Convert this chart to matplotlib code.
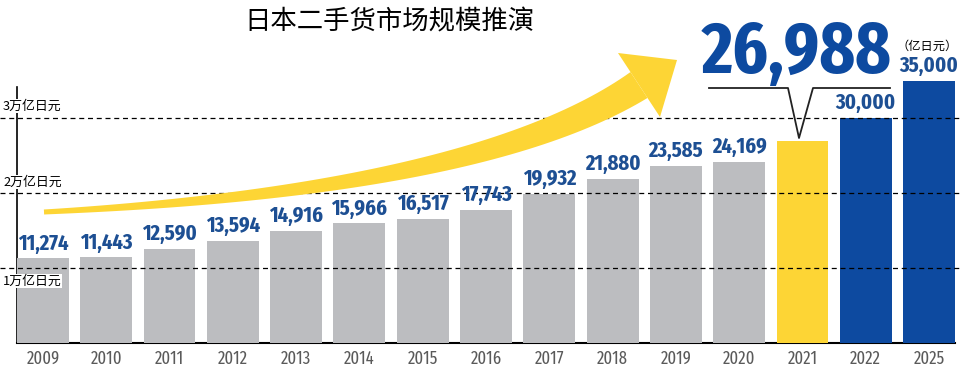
import os
import numpy as np
import matplotlib
matplotlib.use("Agg")
import matplotlib.pyplot as plt
from matplotlib import font_manager
from matplotlib.font_manager import FontProperties
from matplotlib.patches import Polygon
from matplotlib.lines import Line2D

# data
years = ["2009", "2010", "2011", "2012", "2013", "2014", "2015", "2016",
         "2017", "2018", "2019", "2020", "2021", "2022", "2025"]
values = [11274, 11443, 12590, 13594, 14916, 15966, 16517, 17743,
          19932, 21880, 23585, 24169, 26988, 30000, 35000]
kinds = ["past"] * 12 + ["now", "plan", "plan"]

grid_vals = [10000, 20000, 30000]
grid_labels = ["1万亿日元", "2万亿日元", "3万亿日元"]
grid_label_y = [8270, 21470, 31600]

title = "日本二手货市场规模推演"
unit = "（亿日元）"

colors = {"past": "#bcbdc0", "now": "#fdd535", "plan": "#0d4aa0"}
blue_txt = "#1d4f93"
cjk = ["Noto Sans CJK SC", "DejaVu Sans"]


def narrow_font(lo, hi):
    # look for an installed condensed face, narrowest first
    best = None
    for f in font_manager.fontManager.ttflist:
        base = os.path.basename(f.fname)
        if "Italic" in base or "Oblique" in base:
            continue
        if not (lo <= int(f.weight) <= hi):
            continue
        if "ExtraCondensed" in base:
            rank = 0
        elif "SemiCondensed" in base:
            rank = 3
        elif "Condensed" in base or "Narrow" in base:
            rank = 1
        else:
            continue
        if best is None or rank < best[0]:
            best = (rank, f.fname)
    if best is None:
        return FontProperties(family="DejaVu Sans",
                              weight="bold" if lo >= 600 else "normal"), False
    return FontProperties(fname=best[1]), True


fp_bold, ok_b = narrow_font(600, 800)
fp_reg, ok_r = narrow_font(380, 420)
k_b = 1.0 if ok_b else 0.75
k_r = 1.0 if ok_r else 0.8

W, H = 960, 371
fig = plt.figure(figsize=(W / 100, H / 100), dpi=100)
ax = fig.add_axes([17 / W, 28 / H, 938 / W, 1 - 28 / H])

x = np.arange(len(years))
ax.bar(x, values, width=0.82, color=[colors[k] for k in kinds], zorder=3)
ax.set_xlim(-0.41, len(years) - 0.59)
ax.set_ylim(0, 343 / 75 * 10000)

for s in ["top", "right"]:
    ax.spines[s].set_visible(False)
ax.spines["left"].set_bounds(0, (343 - 87) / 75 * 10000)
ax.spines["left"].set_linewidth(1.2)
ax.spines["bottom"].set_linewidth(1.5)
ax.set_yticks([])
ax.set_xticks(x)
ax.set_xticklabels(years)
for t in ax.get_xticklabels():
    t.set_fontproperties(fp_reg)
    t.set_fontsize(13 * k_r)
    t.set_color("#5a5a5a")
ax.tick_params(axis="x", length=0, pad=5)

# arrow (pixel space, decorative)
def px(pts):
    return [(p[0] / W, 1 - p[1] / H) for p in pts]

P0, P1, P2 = np.array([44, 212]), np.array([479, 190]), np.array([639, 85])
s = np.linspace(0, 1, 60)
c = ((1 - s) ** 2)[:, None] * P0 + (2 * s * (1 - s))[:, None] * P1 + (s ** 2)[:, None] * P2
d = (2 * (1 - s))[:, None] * (P1 - P0) + (2 * s)[:, None] * (P2 - P1)
n = np.stack([-d[:, 1], d[:, 0]], axis=1)
n = n / np.linalg.norm(n, axis=1)[:, None]
w = 2.5 + 13 * s ** 1.1
upper = c + n * w[:, None]
lower = c - n * w[:, None]
shaft = np.vstack([upper, lower[::-1]])
fig.add_artist(Polygon(px(shaft), closed=True, transform=fig.transFigure,
                       facecolor="#fdd535", edgecolor="none", zorder=2))
fig.add_artist(Polygon(px([(618, 53), (677, 60), (660, 117)]), closed=True,
                       transform=fig.transFigure, facecolor="#fdd535",
                       edgecolor="none", zorder=2))

# gridlines and labels
tr = ax.get_yaxis_transform()
for gv, gl, gy in zip(grid_vals, grid_labels, grid_label_y):
    ax.plot([-17 / 938, 1 + 5 / 938], [gv, gv], transform=tr, color="black",
            lw=0.9, ls=(0, (4, 3)), clip_on=False, zorder=4)
    ax.text(-14 / 938, gy, gl, transform=tr, ha="left", va="center",
            family=cjk, fontsize=9.3, zorder=6,
            bbox=dict(facecolor="white", edgecolor="none", pad=0.5))

# value labels
for i, (v, k) in enumerate(zip(values, kinds)):
    if k == "now":
        continue
    ax.annotate(f"{v:,}", (i, v), xytext=(0, 3), textcoords="offset points",
                ha="center", va="bottom", fontproperties=fp_bold,
                fontsize=16 * k_b, color=blue_txt, zorder=5)

# highlight
fig.text(797 / W, 1 - 53 / H, f"{values[12]:,}", ha="center", va="center",
         fontproperties=fp_bold, fontsize=53 * k_b, color="#0d4aa0")
callout = [(709, 88), (788, 88), (799, 138), (813, 88), (890, 88)]
fig.add_artist(Line2D([p[0] for p in px(callout)], [p[1] for p in px(callout)],
                      transform=fig.transFigure, color="#222222", lw=1.3))

fig.text(927 / W, 1 - 46 / H, unit, ha="center", va="center", family=cjk,
         fontsize=8.8, color="black")
fig.text(389 / W, 1 - 22 / H, title, ha="center", va="center", family=cjk,
         fontsize=19, weight="light", color="black")

fig.savefig("out.png", dpi=100)
